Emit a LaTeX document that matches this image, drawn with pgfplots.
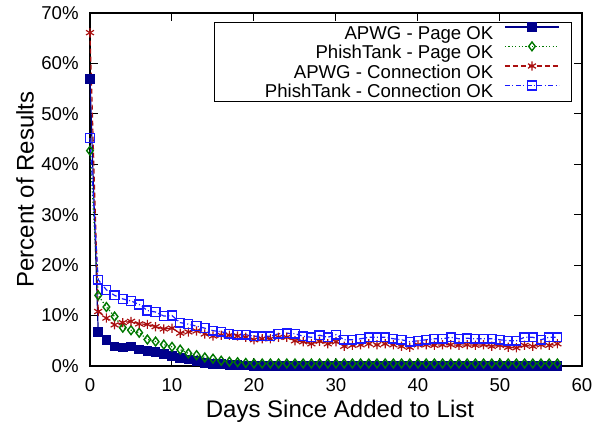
\documentclass[border=0pt]{standalone}
\usepackage{pgfplots}
\pgfplotsset{compat=1.18}
\usepackage{pgfplotstable}
\usepackage{fontspec}
\setmainfont{Liberation Sans}
\definecolor{cnavy}{RGB}{0,0,140}
\definecolor{cgreen}{RGB}{0,120,0}
\definecolor{cred}{RGB}{170,15,15}
\definecolor{cblue}{RGB}{25,25,255}

\pgfplotstableread{
d v
0 56.9
1 6.8
2 5.1
3 3.9
4 3.7
5 3.9
6 3.3
7 3.0
8 2.8
9 2.4
10 2.0
11 1.6
12 1.3
13 1.0
14 0.65
15 0.45
16 0.35
17 0.25
18 0.15
19 0.1
20 0.05
21 0.05
22 0.05
23 0.05
24 0.05
25 0.05
26 0.05
27 0.05
28 0.05
29 0.05
30 0.05
31 0.05
32 0.05
33 0.05
34 0.05
35 0.05
36 0.05
37 0.05
38 0.05
39 0.05
40 0.05
41 0.05
42 0.05
43 0.05
44 0.05
45 0.05
46 0.05
47 0.05
48 0.05
49 0.05
50 0.05
51 0.05
52 0.05
53 0.05
54 0.05
55 0.05
56 0.05
57 0.05
}\apwgpage

\pgfplotstableread{
d v
0 42.7
1 14.0
2 11.7
3 9.8
4 7.6
5 7.1
6 6.6
7 5.25
8 4.85
9 4.25
10 3.8
11 3.25
12 2.5
13 2.15
14 1.7
15 1.45
16 1.05
17 0.85
18 0.75
19 0.6
20 0.5
21 0.5
22 0.5
23 0.5
24 0.5
25 0.5
26 0.5
27 0.5
28 0.5
29 0.5
30 0.5
31 0.5
32 0.5
33 0.5
34 0.5
35 0.5
36 0.5
37 0.5
38 0.5
39 0.5
40 0.5
41 0.5
42 0.5
43 0.5
44 0.5
45 0.5
46 0.5
47 0.5
48 0.5
49 0.5
50 0.5
51 0.5
52 0.5
53 0.5
54 0.5
55 0.5
56 0.5
57 0.5
}\ptpage

\pgfplotstableread{
d v
0 66.1
1 10.8
2 9.5
3 8.15
4 8.6
5 8.85
6 8.35
7 8.25
8 7.8
9 7.35
10 7.5
11 6.5
12 6.75
13 6.95
14 6.35
15 5.95
16 6.1
17 6.1
18 5.95
19 5.7
20 5.2
21 5.4
22 5.4
23 5.7
24 5.7
25 5.0
26 4.8
27 4.4
28 4.9
29 4.4
30 4.8
31 3.9
32 4.1
33 4.2
34 4.4
35 4.2
36 4.4
37 4.2
38 3.9
39 3.7
40 4.2
41 4.2
42 4.1
43 4.2
44 4.2
45 4.1
46 4.2
47 4.1
48 4.2
49 3.9
50 4.1
51 3.7
52 3.6
53 4.1
54 3.9
55 4.2
56 4.1
57 4.4
}\apwgconn

\pgfplotstableread{
d v
0 45.2
1 17.1
2 15.1
3 14.0
4 13.3
5 12.9
6 12.2
7 11.0
8 10.7
9 9.9
10 10.0
11 8.6
12 8.3
13 7.9
14 7.5
15 7.0
16 6.8
17 6.4
18 6.2
19 6.2
20 5.9
21 5.9
22 5.9
23 6.4
24 6.5
25 6.4
26 5.9
27 5.7
28 6.1
29 5.7
30 6.2
31 5.2
32 5.2
33 5.4
34 5.7
35 5.7
36 5.7
37 5.4
38 5.2
39 4.8
40 5.0
41 5.2
42 5.4
43 5.4
44 5.7
45 5.4
46 5.5
47 5.4
48 5.4
49 5.4
50 5.2
51 5.0
52 5.0
53 5.7
54 5.7
55 5.2
56 5.7
57 5.7
}\ptconn

\begin{document}
\begin{tikzpicture}
\useasboundingbox (-45pt,-31pt) rectangle (258.5pt,183pt);
\begin{axis}[
  scale only axis,
  width=246pt, height=176.5pt,
  at={(0,0)}, anchor=south west,
  xmin=0, xmax=60, ymin=0, ymax=70,
  xtick={0,10,...,60},
  ytick={0,10,...,70},
  yticklabel={\pgfmathprintnumber{\tick}\%},
  /pgf/number format/assume math mode=true,
  tick align=inside,
  tick pos=both,
  major tick length=4pt,
  axis line style={line width=0.6pt},
  every tick/.style={black, line width=0.5pt},
  tick label style={font=\fontsize{9.3}{11}\selectfont},
  xticklabel style={anchor=north, inner sep=0pt, yshift=-6.2pt},
  yticklabel style={anchor=east, inner sep=0pt, xshift=-5.5pt},
  every axis x label/.style={at={(axis description cs:0.5,0)}, anchor=center, xshift=2pt, yshift=-22.5pt, font=\fontsize{12}{14}\selectfont},
  every axis y label/.style={at={(axis description cs:0,0.5)}, anchor=center, xshift=-32.5pt, rotate=90, font=\fontsize{12}{14}\selectfont},
  xlabel={Days Since Added to List},
  ylabel={Percent of Results},
  clip=false,
  legend cell align=right,
  legend plot pos=right,
  legend style={at={(1,1)}, anchor=north east, xshift=-5.1pt, yshift=-4.35pt,
    font=\fontsize{9.3}{9.3}\selectfont, line width=0.5pt,
    inner xsep=5.85pt, inner ysep=0.25pt, row sep=0pt, column sep=5.5pt,
    nodes={inner sep=0pt, text height=7.95pt, text depth=1.3pt}},
  legend image code/.code={\draw[mark repeat=2,mark phase=2,#1] plot coordinates {(0pt,2.9pt) (13.5pt,2.9pt) (27pt,2.9pt)};},
]
\addplot[cnavy, line width=0.6pt, mark=square*, mark size=2.1pt, mark options={solid}] table[x=d,y=v] {\apwgpage};
\addlegendentry{APWG - Page OK}
\addplot[cgreen, line width=0.6pt, dash pattern=on 0.6pt off 1.1pt, mark=diamond, mark size=2.2pt, mark options={solid, line width=0.7pt}] table[x=d,y=v] {\ptpage};
\addlegendentry{PhishTank - Page OK}
\addplot[cred, line width=0.6pt, dash pattern=on 2.5pt off 1.5pt, mark=asterisk, mark size=2.3pt, mark options={solid, line width=0.6pt}] table[x=d,y=v] {\apwgconn};
\addlegendentry{APWG - Connection OK}
\addplot[cblue, line width=0.6pt, dash pattern=on 2.5pt off 1.2pt on 0.5pt off 1.2pt, mark=square, mark size=2.2pt, mark options={solid, line width=0.7pt}] table[x=d,y=v] {\ptconn};
\addlegendentry{\hspace*{19.3pt}PhishTank - Connection OK}
\end{axis}
\end{tikzpicture}
\end{document}
